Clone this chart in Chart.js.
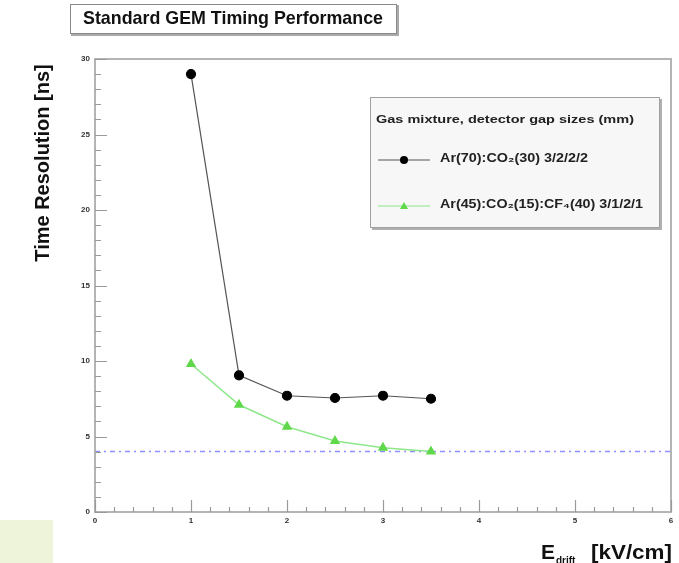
<!DOCTYPE html>
<html>
<head>
<meta charset="utf-8">
<script src="https://cdn.jsdelivr.net/npm/chart.js@4/dist/chart.umd.min.js"></script>
<style>
    html, body { margin: 0; padding: 0; background: #fff; }
    #wrap { width: 679px; height: 563px; position: relative; }
</style>
</head>
<body>
<div id="wrap"><canvas id="c"></canvas></div>
<script>
    // values
    var fields = [1, 1.5, 2, 2.5, 3, 3.5];
    var arCo2 = [29.0, 9.05, 7.7, 7.55, 7.7, 7.5];
    var arCo2Cf4 = [9.8, 7.1, 5.65, 4.7, 4.25, 4.0];
    var refX = [0, 6];
    var refY = [4, 4];
    var labelArCo2 = 'Ar(70):CO\u2082(30) 3/2/2/2';
    var labelArCo2Cf4 = 'Ar(45):CO\u2082(15):CF\u2084(40) 3/1/2/1';
    var legendTitle = 'Gas mixture, detector gap sizes (mm)';
    var chartTitle = 'Standard GEM Timing Performance';
    var yTitle = 'Time Resolution [ns]';

    function pts(xs, ys) {
        return xs.map(function (x, i) { return {x: x, y: ys[i]}; });
    }

    var FONT = '"Liberation Sans", Arial, sans-serif';

    // draw text squeezed/stretched to a given width (the original is a bit stretched)
    function fitText(ctx, text, x, y, width) {
        var w = ctx.measureText(text).width;
        ctx.save();
        ctx.textAlign = 'left';
        ctx.translate(x, y);
        ctx.scale(width / w, 1);
        ctx.fillText(text, 0, 0);
        ctx.restore();
    }

    // ROOT-like decorations: frame, inner ticks, title box, legend, axis titles
    var rootStyle = {
        id: 'rootStyle',
        beforeDraw: function (chart) {
            var ctx = chart.ctx;
            ctx.save();
            ctx.fillStyle = '#fff';
            ctx.fillRect(0, 0, chart.width, chart.height);
            ctx.fillStyle = '#eef4d9';
            ctx.fillRect(0, 520, 53, 43);
            ctx.restore();
        },
        afterDatasetsDraw: function (chart) {
            var ctx = chart.ctx;
            var a = chart.chartArea;
            var xs = chart.scales.x, ys = chart.scales.y;
            ctx.save();

            // frame
            ctx.strokeStyle = '#b4b4b4';
            ctx.lineWidth = 2;
            ctx.strokeRect(a.left, a.top, a.right - a.left, a.bottom - a.top);

            // ticks
            ctx.strokeStyle = '#9a9a9a';
            ctx.lineWidth = 1.2;
            ctx.beginPath();
            for (var v = 0; v <= 30; v++) {
                var py = Math.round(ys.getPixelForValue(v)) + 0.5;
                var len = v % 5 === 0 ? 12 : 6;
                ctx.moveTo(a.left, py);
                ctx.lineTo(a.left + len, py);
            }
            for (var k = 0; k <= 30; k++) {
                var px = Math.round(xs.getPixelForValue(k * 0.2)) + 0.5;
                var l2 = k % 5 === 0 ? 12 : 5;
                ctx.moveTo(px, a.bottom);
                ctx.lineTo(px, a.bottom - l2);
            }
            ctx.stroke();

            // title box
            ctx.fillStyle = '#aaa';
            ctx.fillRect(71, 5, 328, 31);
            ctx.fillStyle = '#fff';
            ctx.fillRect(70, 4, 327, 30);
            ctx.strokeStyle = '#8a8a8a';
            ctx.lineWidth = 1;
            ctx.strokeRect(70.5, 4.5, 326, 29);
            ctx.fillStyle = '#111';
            ctx.font = 'bold 19px ' + FONT;
            ctx.textBaseline = 'middle';
            fitText(ctx, chartTitle, 83, 19, 300);

            // legend box
            var lx = 370, ly = 97, lw = 290, lh = 131;
            ctx.fillStyle = '#b0b0b0';
            ctx.fillRect(lx + 2, ly + 2, lw, lh);
            ctx.fillStyle = '#f7f7f7';
            ctx.fillRect(lx, ly, lw, lh);
            ctx.strokeStyle = '#a0a0a0';
            ctx.strokeRect(lx + 0.5, ly + 0.5, lw - 1, lh - 1);
            ctx.fillStyle = '#222';
            ctx.font = 'bold 11.5px ' + FONT;
            fitText(ctx, legendTitle, 376, 120, 258);

            var rows = [160, 206];
            var widths = [148, 203];
            [0, 1].forEach(function (i) {
                var ds = chart.data.datasets[i];
                var ry = rows[i];
                ctx.strokeStyle = ds.borderColor;
                ctx.lineWidth = 1.2;
                ctx.beginPath();
                ctx.moveTo(378, ry);
                ctx.lineTo(430, ry);
                ctx.stroke();
                ctx.fillStyle = ds.pointBackgroundColor;
                ctx.beginPath();
                if (ds.pointStyle === 'triangle') {
                    ctx.moveTo(404, ry - 4);
                    ctx.lineTo(408, ry + 3);
                    ctx.lineTo(400, ry + 3);
                    ctx.closePath();
                } else {
                    ctx.arc(404, ry, 4, 0, Math.PI * 2);
                }
                ctx.fill();
                ctx.fillStyle = '#222';
                ctx.font = 'bold 12px ' + FONT;
                fitText(ctx, ds.label, 440, ry - 1, widths[i]);
            });

            // y axis title
            ctx.save();
            ctx.translate(43, 163);
            ctx.rotate(-Math.PI / 2);
            ctx.font = 'bold 20px ' + FONT;
            ctx.fillStyle = '#111';
            ctx.textAlign = 'center';
            ctx.fillText(yTitle, 0, 0);
            ctx.restore();

            // x axis title with subscript
            ctx.fillStyle = '#111';
            ctx.textBaseline = 'alphabetic';
            ctx.textAlign = 'left';
            ctx.font = 'bold 21px ' + FONT;
            ctx.fillText('E', 541, 559);
            ctx.font = 'bold 10px ' + FONT;
            ctx.fillText('drift', 556, 564);
            ctx.font = 'bold 21px ' + FONT;
            fitText(ctx, '[kV/cm]', 591, 559, 81);

            ctx.restore();
        }
    };

    new Chart(document.getElementById('c'), {
        type: 'scatter',
        data: {
            datasets: [
                {
                    label: labelArCo2,
                    data: pts(fields, arCo2),
                    showLine: true,
                    borderColor: '#555',
                    borderWidth: 1.2,
                    pointBackgroundColor: '#000',
                    pointBorderColor: '#000',
                    pointRadius: 4.5,
                    pointStyle: 'circle'
                },
                {
                    label: labelArCo2Cf4,
                    data: pts(fields, arCo2Cf4),
                    showLine: true,
                    borderColor: '#8ee88a',
                    borderWidth: 1.5,
                    pointBackgroundColor: '#5fd84a',
                    pointBorderColor: '#5fd84a',
                    pointRadius: 4.5,
                    pointStyle: 'triangle'
                },
                {
                    label: 'reference',
                    data: pts(refX, refY),
                    showLine: true,
                    borderColor: '#8f8fff',
                    borderWidth: 1.5,
                    borderDash: [5, 4, 2, 4],
                    pointRadius: 0
                }
            ]
        },
        options: {
            responsive: true,
            maintainAspectRatio: false,
            animation: false,
            layout: { padding: { left: 0, top: 59, right: 8, bottom: 0 } },
            plugins: {
                legend: { display: false },
                tooltip: { enabled: false },
                title: { display: false }
            },
            scales: {
                x: {
                    type: 'linear',
                    min: 0, max: 6,
                    grid: { display: false, drawTicks: false },
                    border: { display: false },
                    ticks: {
                        stepSize: 1,
                        padding: 4,
                        color: '#333',
                        font: { family: FONT, size: 8, weight: 'bold' }
                    },
                    afterFit: function (s) { s.height = 51; }
                },
                y: {
                    type: 'linear',
                    min: 0, max: 30,
                    grid: { display: false, drawTicks: false },
                    border: { display: false },
                    ticks: {
                        stepSize: 5,
                        padding: 5,
                        color: '#333',
                        font: { family: FONT, size: 8, weight: 'bold' }
                    },
                    afterFit: function (s) { s.width = 95; }
                }
            }
        },
        plugins: [rootStyle]
    });
</script>
</body>
</html>
